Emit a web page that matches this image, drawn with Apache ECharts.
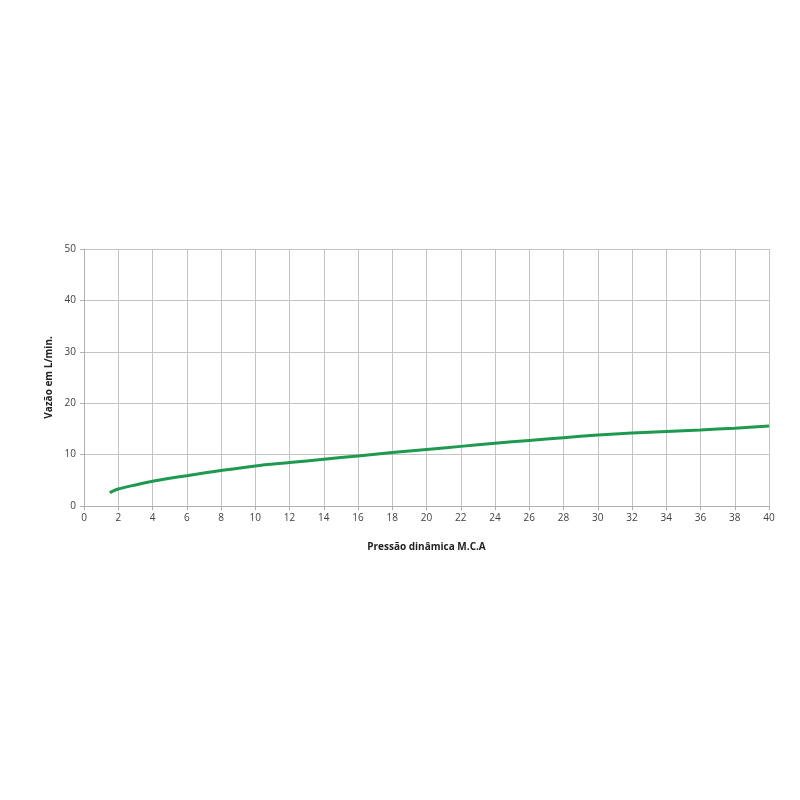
<!DOCTYPE html>
<html><head><meta charset="utf-8">
<script src="https://cdn.jsdelivr.net/npm/echarts@6/dist/echarts.min.js"></script>
<style>html,body{margin:0;padding:0;background:#fff}#c{width:800px;height:800px}</style>
</head><body><div id="c"></div>
<script>
const pressure = [1.5, 2, 3, 4, 5, 6, 8, 10, 12, 14, 16, 18, 20, 22, 24, 26, 28, 30, 32, 34, 36, 38, 40];
const flow = [2.6, 3.3, 4.1, 4.8, 5.4, 5.9, 6.9, 7.8, 8.45, 9.1, 9.75, 10.4, 11.0, 11.6, 12.2, 12.75, 13.3, 13.8, 14.2, 14.5, 14.8, 15.15, 15.55];
const xTitle = 'Pressão dinâmica M.C.A';
const yTitle = 'Vazão em L/min.';
const chart = echarts.init(document.getElementById('c'));
const gridLine = {show:true, lineStyle:{color:'#c4c4c4', width:1}};
chart.setOption({
  animation:false,
  grid:{left:84, right:31, top:249, bottom:294},
  xAxis:{type:'value', min:0, max:40, interval:2,
    name:xTitle, nameLocation:'middle', nameGap:36,
    nameTextStyle:{fontFamily:'Open Sans', fontWeight:'bold', fontSize:10, color:'#222'},
    axisLine:{show:true, lineStyle:{color:'#b0b0b0'}},
    axisTick:{show:true, length:4, lineStyle:{color:'#b0b0b0'}},
    axisLabel:{fontFamily:'Open Sans', fontSize:10, color:'#404040', margin:7},
    splitLine:gridLine},
  yAxis:{type:'value', min:0, max:50, interval:10,
    name:yTitle, nameLocation:'middle', nameGap:29,
    nameTextStyle:{fontFamily:'Open Sans', fontWeight:'bold', fontSize:10, color:'#222'},
    axisLine:{show:true, lineStyle:{color:'#b0b0b0'}},
    axisTick:{show:true, length:4, lineStyle:{color:'#b0b0b0'}},
    axisLabel:{fontFamily:'Open Sans', fontSize:10, color:'#404040', margin:8},
    splitLine:gridLine},
  series:[{type:'line', data:pressure.map((p,i)=>[p, flow[i]]), smooth:0.3, showSymbol:false,
    lineStyle:{color:'#1e9a50', width:3}}]
});
</script></body></html>
